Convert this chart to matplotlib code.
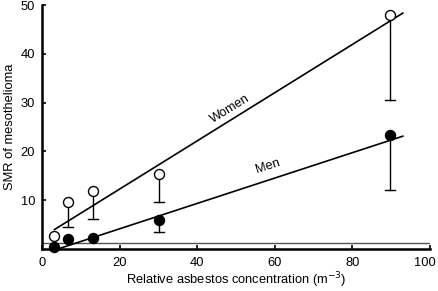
import matplotlib
matplotlib.use("Agg")
import matplotlib.pyplot as plt
import matplotlib.transforms as mtransforms
import numpy as np

plt.rcParams['font.family'] = ['Liberation Sans', 'DejaVu Sans']

# Data
conc = [3.0, 6.7, 13.2, 30.2, 89.7]
women_smr = [2.6, 9.6, 11.9, 15.4, 48.0]
women_lower = [None, 4.6, 6.1, 9.7, 30.6]
men_smr = [0.5, 2.0, 2.2, 6.0, 23.4]
men_lower = [None, None, None, 3.5, 12.0]

women_fit = (2.4, 0.494)   # intercept, slope
men_fit = (-1.06, 0.26)
fit_range = [3.2, 93.0]

xticks = [0, 20, 40, 60, 80, 100]
yticks = [10, 20, 30, 40, 50]

fs = 9.3
fig = plt.figure(figsize=(4.39, 2.91), dpi=100)
ax = fig.add_axes([0.0957, 0.1443, 0.8838, 0.8385])
ax.set_xlim(0, 100)
ax.set_ylim(0, 50)

# reference line SMR = 1
ax.axhline(1.2, color='#555555', lw=1.0, zorder=1)

xf = np.array(fit_range)
ax.plot(xf, women_fit[0] + women_fit[1] * xf, color='black', lw=1.2, zorder=2)
ax.plot(xf, men_fit[0] + men_fit[1] * xf, color='black', lw=1.2, zorder=2)

cap = 1.3
for xs, ys, lows in [(conc, women_smr, women_lower), (conc, men_smr, men_lower)]:
    for x, y, lo in zip(xs, ys, lows):
        if lo is not None:
            ax.plot([x, x], [y, lo], color='black', lw=1.0, zorder=2)
            ax.plot([x - cap, x + cap], [lo, lo], color='black', lw=1.0, zorder=2)

ax.plot(conc, women_smr, 'o', ms=7.2, mfc='white', mec='black', mew=1.0, zorder=3, clip_on=False)
ax.plot(conc, men_smr, 'o', ms=7.2, mfc='black', mec='black', mew=1.0, zorder=3, clip_on=False)

ax.text(48.5, 28.6, 'Women', rotation=31.5, ha='center', va='center', fontsize=fs)
ax.text(58.2, 16.9, 'Men', rotation=18, ha='center', va='center', fontsize=fs)

for s in ['top', 'right']:
    ax.spines[s].set_visible(False)
for s in ['left', 'bottom']:
    ax.spines[s].set_linewidth(1.8)

ax.set_xticks(xticks)
ax.set_yticks(yticks)
ax.tick_params(direction='in', length=3, width=1.2, labelsize=fs)
ax.tick_params(axis='x', pad=6)
ax.tick_params(axis='y', pad=5)
ax.set_xlabel('Relative asbestos concentration (m$^{-3}$)', fontsize=fs, labelpad=1)
ax.set_ylabel('SMR of mesothelioma', fontsize=fs, labelpad=3)

fig.canvas.draw()
last = ax.get_xticklabels()[-1]
last.set_transform(last.get_transform() + mtransforms.ScaledTranslation(-5 / 100, 0, fig.dpi_scale_trans))

fig.savefig('out.png', dpi=100)
